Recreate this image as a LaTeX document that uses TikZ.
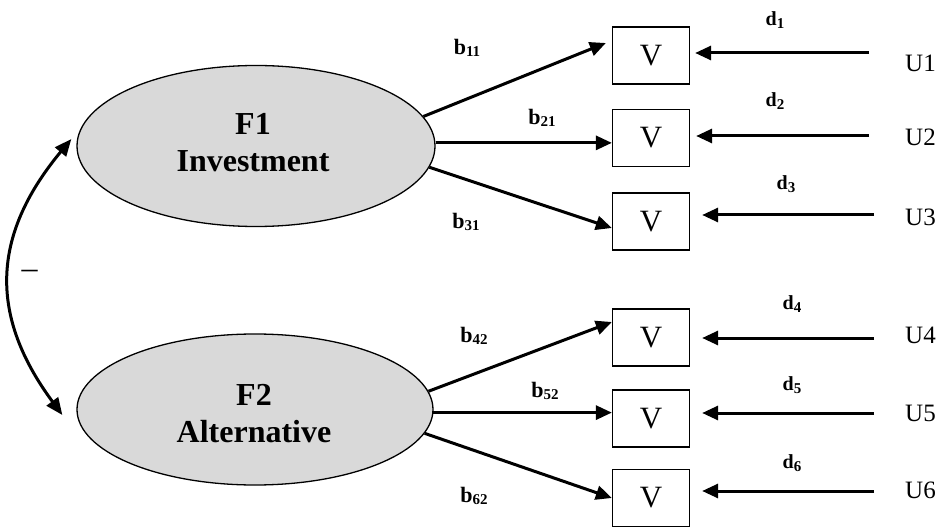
\documentclass[tikz,border=0pt]{standalone}
\usepackage{fontspec}
\setmainfont{Liberation Serif}
\usetikzlibrary{arrows.meta,shapes.geometric}

% lowered index digits for the path and error labels
\newcommand\bidx[1]{\raisebox{-1.5pt}{\fontsize{15}{15}\selectfont #1}}
\newcommand\didx[1]{\raisebox{-3pt}{\fontsize{15}{15}\selectfont #1}}

\begin{document}
\begin{tikzpicture}[x=1pt,y=-1pt,
  latent/.style={ellipse, draw, line width=1.3pt, fill=gray!30, inner sep=0pt},
  ftext/.style={align=center, inner sep=0pt, font=\fontsize{32}{37}\selectfont\bfseries},
  obs/.style={draw, line width=1.3pt, minimum width=77pt, minimum height=57pt,
    inner sep=0pt, font=\fontsize{31}{31}\selectfont},
  coef/.style={inner sep=0pt, font=\fontsize{22}{22}\selectfont\bfseries},
  errlab/.style={inner sep=0pt, font=\fontsize{20}{20}\selectfont\bfseries},
  ulab/.style={inner sep=0pt, anchor=west, font=\fontsize{25}{25}\selectfont},
  arr/.style={line width=3pt, -{Triangle[length=16pt,width=14pt]}},
  corr/.style={line width=3pt, {Triangle[length=17pt,width=14pt]}-{Triangle[length=17pt,width=14pt]}},
]
\useasboundingbox (0,0) rectangle (937,529);

% latent factors
\node[latent, minimum width=358pt, minimum height=161pt] (F1) at (256,146) {};
\node[latent, minimum width=356pt, minimum height=151pt] (F2) at (255,409.5) {};
\node[ftext] (F1t) at (253,142.5) {F1\\Investment};
\node[ftext] (F2t) at (254,413.5) {F2\\Alternative};

% observed variables
\node[obs] (V1) at (651,55.5) {V};
\node[obs] (V2) at (651,138) {V};
\node[obs] (V3) at (651,221.5) {V};
\node[obs] (V4) at (651,337.5) {V};
\node[obs] (V5) at (651,418.5) {V};
\node[obs] (V6) at (651,498) {V};

% unique factors
\node[ulab] (U1) at (905,63) {U1};
\node[ulab] (U2) at (905,137) {U2};
\node[ulab] (U3) at (905,217) {U3};
\node[ulab] (U4) at (905,335) {U4};
\node[ulab] (U5) at (905,413) {U5};
\node[ulab] (U6) at (905,490) {U6};

% loadings
\draw[arr] (F1.10) -- ([xshift=-6pt,yshift=12.5pt]V1.west);
\draw[arr] (F1.1) -- (F1.1 -| V2.west);
\draw[arr] (F1.-7) -- ([yshift=-6.5pt]V3.west);
\draw[arr] (F2.6) -- ([yshift=15.5pt]V4.west);
\draw[arr] (F2.-1) -- (F2.-1 -| V5.west);
\draw[arr] (F2.-8) -- (V6.west);

% error paths
\coordinate (s1) at (869,53);
\coordinate (s2) at (869,136);
\coordinate (s3) at (874,215);
\coordinate (s4) at (874,338);
\coordinate (s5) at (874,413);
\coordinate (s6) at (874,491);
\draw[arr, shorten >=5pt] (s1) -- (s1 -| V1.east);
\draw[arr, shorten >=6pt] (s2) -- (s2 -| V2.east);
\draw[arr, shorten >=12pt] (s3) -- (s3 -| V3.east);
\draw[arr, shorten >=12pt] (s4) -- (s4 -| V4.east);
\draw[arr, shorten >=12pt] (s5) -- (s5 -| V5.east);
\draw[arr, shorten >=12pt] (s6) -- (s6 -| V6.east);

% factor correlation
\draw[corr] ([xshift=-5pt,yshift=7pt]F1.west) .. controls (-10,237) and (-10,317) .. ([xshift=-14pt,yshift=-5.5pt]F2.west);
\node[inner sep=0pt, font=\fontsize{32}{32}\selectfont] (neg) at (29.5,274) {–};

% coefficient labels
\node[coef] (b11) at (467,48) {b\bidx{11}};
\node[coef] (b21) at (542,118) {b\bidx{21}};
\node[coef] (b31) at (466,222) {b\bidx{31}};
\node[coef] (b42) at (474,336) {b\bidx{42}};
\node[coef] (b52) at (545,391) {b\bidx{52}};
\node[coef] (b62) at (474,496) {b\bidx{62}};

\node[errlab] (d1) at (775,20) {d\didx{1}};
\node[errlab] (d2) at (775,101) {d\didx{2}};
\node[errlab] (d3) at (786,184) {d\didx{3}};
\node[errlab] (d4) at (792,304) {d\didx{4}};
\node[errlab] (d5) at (792,385) {d\didx{5}};
\node[errlab] (d6) at (792,463) {d\didx{6}};
\end{tikzpicture}
\end{document}
